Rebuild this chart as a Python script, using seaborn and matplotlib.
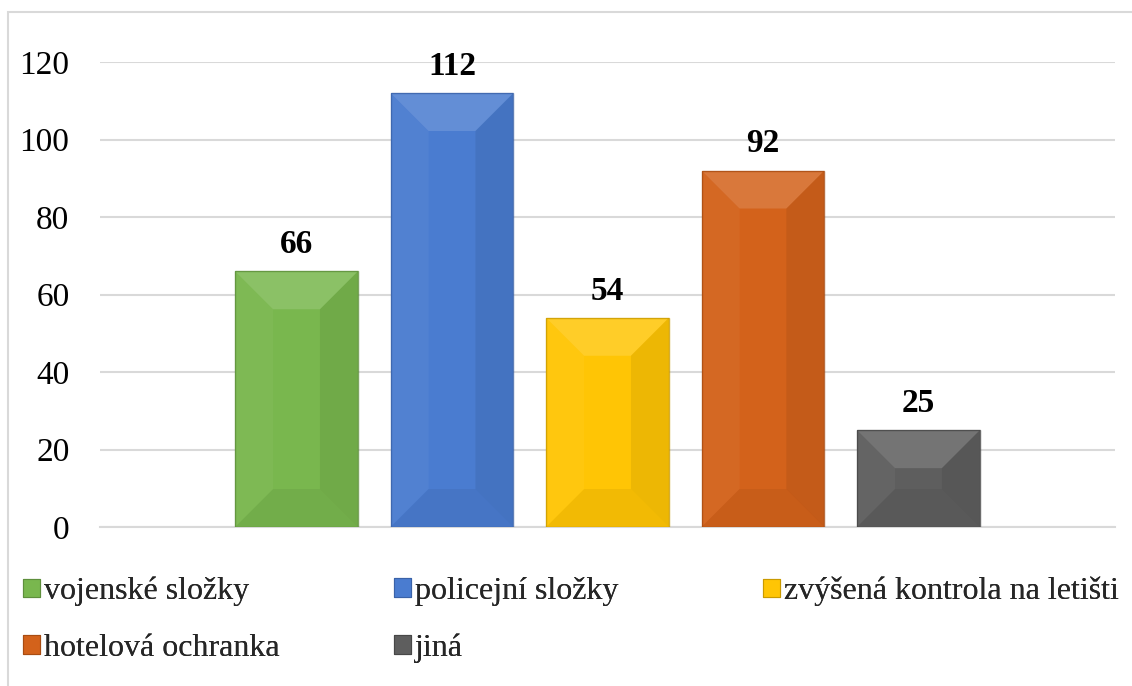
import matplotlib
matplotlib.use("Agg")
import matplotlib.pyplot as plt
import seaborn as sns
import numpy as np
import pandas as pd
from matplotlib.patches import Patch, Polygon, Rectangle

categories = ["vojenské složky", "policejní složky", "zvýšená kontrola na letišti",
              "hotelová ochranka", "jiná"]
values = [66, 112, 54, 92, 25]
colors = ["#79B74E", "#4A7CD0", "#FFC505", "#D3621B", "#5E5E5E"]
edge_colors = ["#5E8F3C", "#3A62A8", "#C99A00", "#A84C12", "#474747"]
yticks = [0, 20, 40, 60, 80, 100, 120]

sns.set_theme(style="white")
plt.rcParams["font.family"] = ["Liberation Serif", "DejaVu Serif"]

fig = plt.figure(figsize=(11.32, 6.86), dpi=100)
ax = fig.add_axes([100 / 1132, 1 - 527 / 686, 1015 / 1132, 465 / 686])

df = pd.DataFrame({"cat": categories, "val": values})
sns.barplot(data=df, x="cat", y="val", hue="cat", order=categories, hue_order=categories,
            palette=colors, saturation=1, width=0.79, dodge=False, legend=False, ax=ax,
            edgecolor="none", linewidth=0, zorder=3)

ax.set_xlim(-1.264, 5.264)
ax.set_ylim(0, 120)
ax.set_yticks(yticks)
ax.set_yticklabels([str(t) for t in yticks], fontsize=24, color="black")
ax.set_xticks([])
ax.set_xlabel("")
ax.set_ylabel("")
ax.tick_params(axis="y", length=0, pad=22)
for s in ["top", "right", "left"]:
    ax.spines[s].set_visible(False)
ax.spines["bottom"].set_color("#D9D9D9")
ax.spines["bottom"].set_linewidth(1.5)
ax.spines["bottom"].set_zorder(2)
ax.yaxis.grid(True, color="#D9D9D9", linewidth=1.5, zorder=0)
ax.set_axisbelow(True)

# bevel shading derived from the bar geometry
fig.canvas.draw()
p0 = ax.transData.transform((0, 0))
p1 = ax.transData.transform((1, 1))
bx = 38 / (p1[0] - p0[0])
by = 38 / (p1[1] - p0[1])
bars = [p for p in ax.patches if isinstance(p, Rectangle)]
for bar, ec in zip(bars, edge_colors):
    x0 = bar.get_x(); w = bar.get_width(); h = bar.get_height()
    x1 = x0 + w
    dy = min(by, h / 2)
    dx = min(bx, w / 2)
    top = [(x0, h), (x1, h), (x1 - dx, h - dy), (x0 + dx, h - dy)]
    bot = [(x0, 0), (x1, 0), (x1 - dx, dy), (x0 + dx, dy)]
    left = [(x0, 0), (x0, h), (x0 + dx, h - dy), (x0 + dx, dy)]
    right = [(x1, 0), (x1, h), (x1 - dx, h - dy), (x1 - dx, dy)]
    for poly, col, a in [(top, "white", 0.14), (left, "white", 0.04),
                         (right, "black", 0.07), (bot, "black", 0.05)]:
        ax.add_patch(Polygon(poly, closed=True, facecolor=col, alpha=a,
                             edgecolor="none", zorder=4))
    ax.add_patch(Rectangle((x0, 0), w, h, fill=False, edgecolor=ec, linewidth=1.0,
                           alpha=0.8, zorder=5))
    ax.annotate(str(int(round(h))), (x0 + w / 2, h), xytext=(0, 8), textcoords="offset points",
                ha="center", va="bottom", fontsize=24, fontweight="bold", color="black")

# legend in three columns, as in the reference
handles = [Patch(facecolor=c, edgecolor=e, linewidth=0.8) for c, e in zip(colors, edge_colors)]
cols = [[0, 3], [1, 4], [2]]
col_x = [23, 394, 763]
for idx, xpx in zip(cols, col_x):
    leg = fig.legend([handles[i] for i in idx], [categories[i] for i in idx],
                     loc="upper left", bbox_to_anchor=(xpx / 1132, 1 - 577 / 686),
                     frameon=False, fontsize=23, handlelength=0.52, handleheight=0.52,
                     handletextpad=0.15, labelspacing=0.85, borderpad=0, borderaxespad=0)
    fig.add_artist(leg)

# outer chart border
fig.patches.append(Rectangle((8 / 1132, -0.1), 1.2, 0.1 + (686 - 12.5) / 686, fill=False,
                             edgecolor="#D9D9D9", linewidth=1.5, transform=fig.transFigure,
                             figure=fig))

fig.savefig("out.png", dpi=100)
